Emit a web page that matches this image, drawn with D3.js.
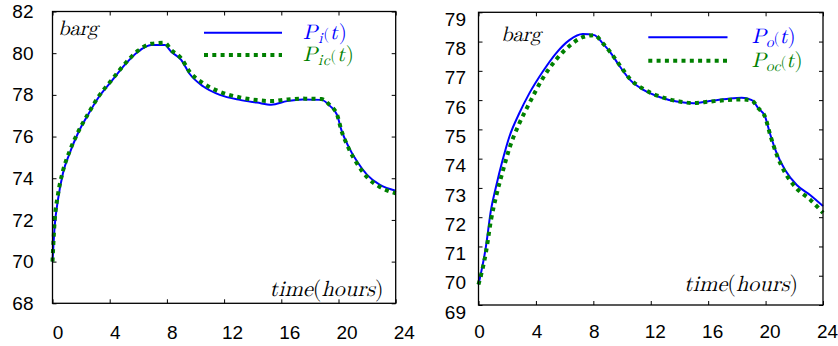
<!DOCTYPE html>
<html>
<head>
<meta charset="utf-8">
<script src="https://cdn.jsdelivr.net/npm/d3@7"></script>
<style>
  body { margin: 0; background: #fff; }
  svg { display: block; }
  .tick text { font-family: "Liberation Sans", Arial, sans-serif; font-size: 19px; fill: #000; }
</style>
</head>
<body>
<div id="chart"></div>
<script>
var xTicks = [0, 4, 8, 12, 16, 20, 24]
var inletTicks = [68, 70, 72, 74, 76, 78, 80, 82]
var outletTicks = [69, 70, 71, 72, 73, 74, 75, 76, 77, 78, 79]

// left panel: inlet pressure, measured P_i and computed P_ic (barg)
var inletHours = [0, 0.15, 0.38, 0.73, 1.2, 1.78, 2.48, 3.18, 4.1, 5.05, 5.98, 6.9, 7.85, 8.3, 9.0, 9.6,
                  10.55, 11.7, 13.1, 14.3, 15.3, 16.4, 17.5, 18.8, 19.4, 19.9, 20.2, 20.7, 21.3, 22.0, 22.9, 24]
var inletMeasured = [70.0, 71.68, 72.96, 74.24, 75.2, 76.16, 77.04, 77.84, 78.63, 79.44, 80.07, 80.39, 80.39, 80.07, 79.68, 79.0,
                     78.4, 78.0, 77.76, 77.63, 77.53, 77.7, 77.78, 77.76, 77.47, 77.04, 76.32, 75.52, 74.8, 74.16, 73.68, 73.4]
var inletComputed = [70.0, 71.95, 73.2, 74.35, 75.3, 76.2, 77.08, 77.88, 78.68, 79.48, 80.12, 80.45, 80.5, 80.15, 79.75, 79.1,
                     78.55, 78.15, 77.88, 77.75, 77.7, 77.78, 77.82, 77.8, 77.5, 77.05, 76.3, 75.45, 74.7, 74.05, 73.58, 73.28]

// right panel: outlet pressure, measured P_o and computed P_oc (barg)
var outletHours = [0, 0.52, 0.87, 1.22, 1.68, 2.15, 2.84, 3.54, 4.47, 5.4, 6.33, 7.26, 8.07, 8.65, 9.16, 9.86, 10.56,
                   11.49, 12.65, 13.81, 14.97, 16.1, 17.3, 18.34, 19.04, 19.5, 19.97, 20.3, 20.78, 21.36, 22.17, 23.1, 24]
var outletMeasured = [69.7, 71.0, 72.25, 73.04, 73.95, 74.75, 75.55, 76.23, 76.97, 77.6, 78.05, 78.26, 78.22, 77.94, 77.65, 77.14, 76.69,
                      76.35, 76.1, 75.95, 75.89, 75.97, 76.04, 76.08, 76.0, 75.72, 75.43, 74.87, 74.18, 73.61, 73.1, 72.76, 72.38]
var outletComputed = [69.7, 70.8, 71.9, 72.7, 73.55, 74.35, 75.2, 75.89, 76.74, 77.38, 77.85, 78.15, 78.22, 77.95, 77.65, 77.18, 76.72,
                      76.38, 76.12, 75.97, 75.9, 75.95, 76.0, 76.02, 75.98, 75.72, 75.42, 74.85, 74.13, 73.52, 72.98, 72.6, 72.15]

var width = 838, height = 346

var svg = d3.select('#chart').append('svg')
  .attr('width', width)
  .attr('height', height)

svg.append('rect').attr('width', width).attr('height', height).attr('fill', '#fff')

// TeX-like labels: Latin Modern, letters slanted, brackets upright
function mathLabel(g, x, y, size, parts, color, len) {
  var t = g.append('text')
    .attr('x', x)
    .attr('y', y)
    .attr('font-size', size)
    .attr('fill', color)
    .attr('style', 'font-family: "Latin Modern Math", "Liberation Serif", serif')
  if (len) t.attr('textLength', len).attr('lengthAdjust', 'spacing')
  parts.forEach(function(p) {
    var s = t.append('tspan').text(p.t)
    if (p.it) s.attr('font-style', 'italic')
    if (p.sub) s.attr('font-size', size * 0.72).attr('dy', p.sub)
  })
  return t
}

function drawPanel(p) {
  var x = d3.scaleLinear().domain([0, 24]).range([p.left, p.right])
  var y = d3.scaleLinear().domain(p.yDomain).range([p.bottom, p.top])
  var g = svg.append('g')

  g.append('rect')
    .attr('x', p.left).attr('y', p.top)
    .attr('width', p.right - p.left).attr('height', p.bottom - p.top)
    .attr('fill', '#fff')

  var bottom = g.append('g')
    .attr('transform', 'translate(0,' + p.bottom + ')')
    .call(d3.axisBottom(x).tickValues(xTicks).tickSize(-4).tickPadding(p.xPad).tickFormat(d3.format('d')))
  bottom.selectAll('text').attr('dx', d => String(d).length > 1 ? p.xShift2 : p.xShift1)

  g.append('g')
    .attr('transform', 'translate(0,' + p.top + ')')
    .call(d3.axisTop(x).tickValues(xTicks).tickSize(-4).tickFormat(''))

  var left = g.append('g')
    .attr('transform', 'translate(' + p.left + ',0)')
    .call(d3.axisLeft(y).tickValues(p.yTicks).tickSize(-4).tickPadding(p.yPad))
  left.selectAll('text').attr('y', p.yShift)

  g.append('g')
    .attr('transform', 'translate(' + p.right + ',0)')
    .call(d3.axisRight(y).tickValues(p.yTicks).tickSize(-4).tickFormat(''))

  g.selectAll('.domain').remove()
  g.selectAll('.tick line').attr('stroke', '#000').attr('stroke-width', 1)

  var line = d3.line()
    .x(d => x(d[0]))
    .y(d => y(d[1]))
    .curve(d3.curveMonotoneX)

  g.append('path')
    .datum(p.hours.map((h, i) => [h, p.measured[i]]))
    .attr('d', line)
    .attr('fill', 'none')
    .attr('stroke', '#0000ff')
    .attr('stroke-width', 2)

  g.append('path')
    .datum(p.hours.map((h, i) => [h, p.computed[i]]))
    .attr('d', line)
    .attr('fill', 'none')
    .attr('stroke', '#008000')
    .attr('stroke-width', 4)
    .attr('stroke-dasharray', '4,4.3')

  g.append('rect')
    .attr('x', p.left).attr('y', p.top)
    .attr('width', p.right - p.left).attr('height', p.bottom - p.top)
    .attr('fill', 'none')
    .attr('stroke', '#000')
    .attr('stroke-width', 1.3)

  // legend
  g.append('line')
    .attr('x1', p.legX1).attr('x2', p.legX2)
    .attr('y1', p.legY1).attr('y2', p.legY1)
    .attr('stroke', '#0000ff').attr('stroke-width', 2)
  g.append('line')
    .attr('x1', p.legX1).attr('x2', p.legX2)
    .attr('y1', p.legY2).attr('y2', p.legY2)
    .attr('stroke', '#008000').attr('stroke-width', 4)
    .attr('stroke-dasharray', '4,4.3')

  mathLabel(g, p.legTx, p.legY1 + 6, 21,
    [{t: 'P', it: 1}, {t: p.sub1, it: 1, sub: 4}, {t: '(', sub: -4}, {t: 't', it: 1}, {t: ')'}],
    '#0000ff', 44)
  mathLabel(g, p.legTx, p.legY2 + 6, 21,
    [{t: 'P', it: 1}, {t: p.sub2, it: 1, sub: 4}, {t: '(', sub: -4}, {t: 't', it: 1}, {t: ')'}],
    '#008000', 51)

  mathLabel(g, p.bargX, p.bargY, 21, [{t: 'barg', it: 1}], '#000', 40)
  mathLabel(g, p.timeX, p.timeY, 22,
    [{t: 'time', it: 1}, {t: '('}, {t: 'hours', it: 1}, {t: ')'}], '#000', 114)
}

drawPanel({
  left: 52.5, right: 395.7, top: 11.5, bottom: 303.3,
  yDomain: [68, 82], yTicks: inletTicks,
  xPad: 22, xShift1: 5, xShift2: 8, yPad: 19, yShift: 0,
  hours: inletHours, measured: inletMeasured, computed: inletComputed,
  legX1: 204, legX2: 282, legY1: 32.7, legY2: 55, legTx: 303,
  sub1: 'i', sub2: 'ic',
  bargX: 58, bargY: 35, timeX: 269.5, timeY: 295.5
})

drawPanel({
  left: 478.5, right: 823, top: 12.3, bottom: 305,
  yDomain: [69, 79], yTicks: outletTicks,
  xPad: 20, xShift1: 0.5, xShift2: 4, yPad: 12.5, yShift: 7,
  hours: outletHours, measured: outletMeasured, computed: outletComputed,
  legX1: 648.3, legX2: 727.5, legY1: 37.3, legY2: 60.7, legTx: 751.7,
  sub1: 'o', sub2: 'oc',
  bargX: 501, bargY: 40.5, timeX: 684, timeY: 290.5
})
</script>
</body>
</html>
